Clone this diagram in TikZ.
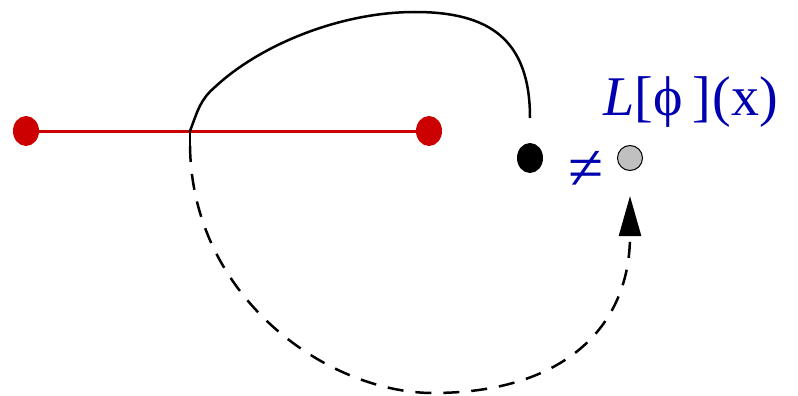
\documentclass[tikz,border=0pt]{standalone}
\usepackage{fontspec}
\setmainfont{Liberation Serif}
\usetikzlibrary{shapes.geometric,arrows.meta}
\definecolor{dotred}{HTML}{CC0000}
\definecolor{txtblue}{HTML}{0000B0}
\definecolor{dotgray}{HTML}{C0C0C0}
\tikzset{
  reddot/.style={ellipse,fill=dotred,minimum width=26pt,minimum height=30pt,inner sep=0pt},
  blackdot/.style={ellipse,fill=black,minimum width=26pt,minimum height=30pt,inner sep=0pt},
  graydot/.style={circle,fill=dotgray,draw=black,line width=1pt,minimum size=25pt,inner sep=0pt},
  curve/.style={line width=2.5pt,black},
  dashcurve/.style={curve,dash pattern=on 16pt off 12pt},
  lbl/.style={text=txtblue,inner sep=0pt}
}
\begin{document}
\begin{tikzpicture}[x=1pt,y=-1pt]
\useasboundingbox (0,0) rectangle (798,396);
\node[reddot] (r1) at (26,131) {};
\node[reddot] (r2) at (429,131) {};
\draw[dotred,line width=3pt] (r1) -- (r2);
\node[blackdot] (b) at (530,158) {};
\node[graydot] (g) at (630,158) {};
\coordinate (j) at (190,131);
\coordinate (jd) at (190,146);
\coordinate (top) at (530,118);
\draw[curve] (j) .. controls (198,110) and (200,100) .. (215,87)
  .. controls (260,45) and (340,12) .. (415,12)
  .. controls (490,12) and (530,40) .. (top);
\draw[curve] (j) -- (jd);
\draw[dashcurve,-{Triangle[length=40pt,width=22pt]},shorten >=25pt] (jd) .. controls (192,300) and (330,393) .. (433,393)
  .. controls (560,393) and (630,330) .. (g);
\node[lbl,font=\fontsize{64}{70}\selectfont] (neq) at (586,170) {≠};
\node[lbl,font=\fontsize{56}{60}\selectfont] (L) at (691,102) {\textit{L}[ϕ\,]\kern2pt(x)};
\end{tikzpicture}
\end{document}
